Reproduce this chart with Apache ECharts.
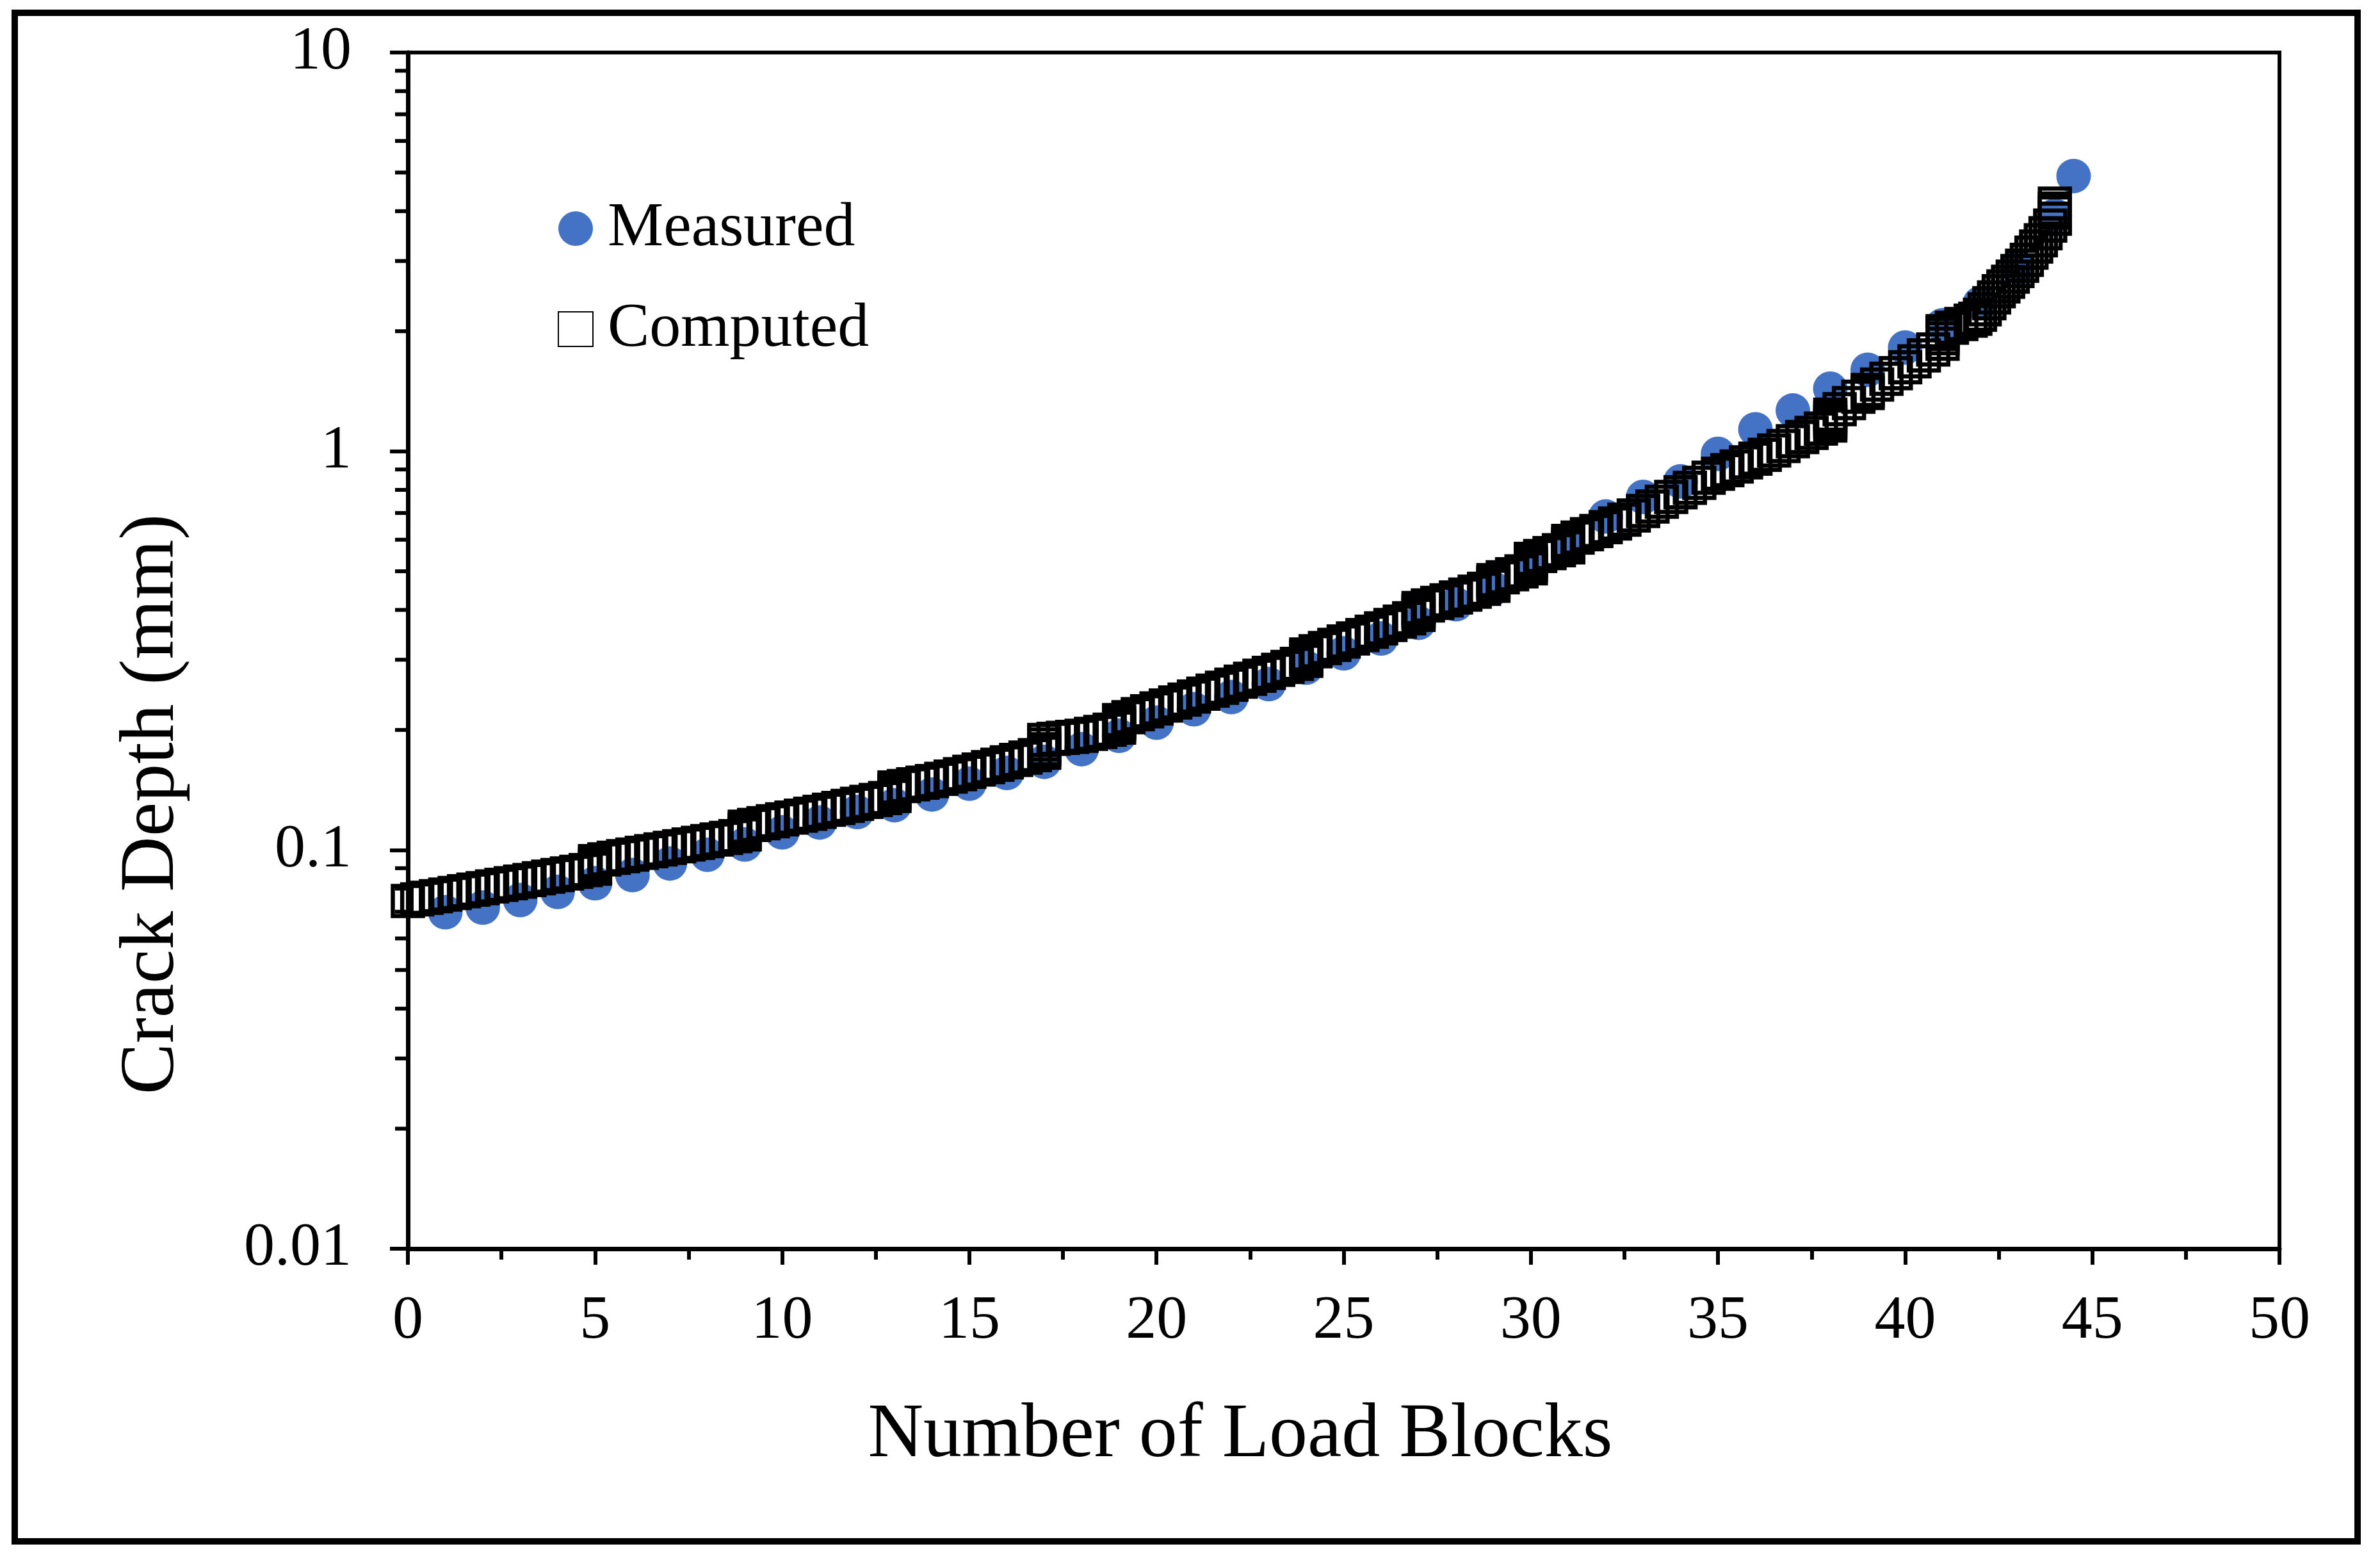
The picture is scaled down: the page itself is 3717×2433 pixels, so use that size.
<!DOCTYPE html>
<html>
<head>
<meta charset="utf-8">
<script src="https://cdn.jsdelivr.net/npm/echarts@6/dist/echarts.min.js"></script>
<style>
html,body{margin:0;padding:0;background:#fff;}
#chart{width:3717px;height:2433px;}
</style>
</head>
<body>
<div id="chart"></div>
<script>
// ---- data ----
const measBlocks = [1,2,3,4,5,6,7,8,9,10,11,12,13,14,15,16,17,18,19,20,21,22,23,24,25,26,27,28,29,30,31,32,33,34,35,36,37,38,39,40,41,42,43,44,44.5];
const measDepth = [0.0698,0.0717,0.0749,0.0785,0.0825,0.0865,0.0925,0.0973,0.1032,0.1107,0.1172,0.1245,0.1295,0.1378,0.1467,0.1560,0.1664,0.1790,0.1933,0.2086,0.2254,0.2418,0.2606,0.2867,0.3113,0.3392,0.3713,0.4133,0.4522,0.5180,0.5850,0.6860,0.7680,0.8400,0.9850,1.135,1.265,1.435,1.600,1.820,2.070,2.350,2.900,3.900,4.900];

const compBlocks = [
0,0.25,0.5,0.75,1,1.25,1.5,1.75,2,2.25,2.5,2.75,3,3.25,3.5,3.75,4,4.25,4.5,4.75,
5,5,5,5,5.25,5.5,5.75,6,6.25,6.5,6.75,7,7.25,7.5,7.75,8,8.25,8.5,8.75,
9,9,9,9,9.25,9.5,9.75,10,10.25,10.5,10.75,11,11.25,11.5,11.75,12,12.25,12.5,12.75,
13,13,13,13,13.25,13.5,13.75,14,14.25,14.5,14.75,15,15.25,15.5,15.75,16,16.25,16.5,16.75,
17,17,17,17,17.25,17.5,17.75,18,18.25,18.5,18.75,
19,19,19,19,19.25,19.5,19.75,20,20.25,20.5,20.75,21,21.25,21.5,21.75,22,22.25,22.5,22.75,23,23.25,23.5,23.75,
24,24,24,24,24.25,24.5,24.75,25,25.25,25.5,25.75,26,26.25,26.5,26.75,
27,27,27,27,27.25,27.5,27.75,28,28.25,28.5,28.75,
29,29,29,29,29.25,29.5,29.75,
30,30,30,30,30.25,30.5,30.75,
31,31,31,31,31.25,31.5,31.75,32,32.25,32.5,32.75,33,33.25,33.5,33.75,34,34.25,34.5,34.75,35,35.25,35.5,35.75,36,36.25,36.5,36.75,37,37.25,37.5,37.75,
38,38,38,38,38.25,38.5,38.75,39,39,39.25,39.5,39.75,40,40.25,40.5,40.75,
41,41,41,41,41.25,41.5,41.75,41.875,42,42.125,42.25,42.375,42.5,42.625,42.75,42.875,43,43.125,43.25,43.375,43.5,43.625,43.75,43.875,
44,44,44,44
];
const compDepth = [
0.0745,0.0752,0.0759,0.0766,0.0773,0.0780,0.0788,0.0795,0.0802,0.0810,0.0818,0.0825,0.0833,0.0841,0.0849,0.0857,0.0865,0.0873,0.0881,0.0890,
0.0898,0.0912,0.0926,0.0938,0.0947,0.0956,0.0965,0.0974,0.0984,0.0993,0.1003,0.1012,0.1022,0.1032,0.1042,0.1052,0.1062,0.1072,0.1083,
0.1094,0.1110,0.1127,0.1144,0.1155,0.1167,0.1180,0.1193,0.1206,0.1219,0.1233,0.1247,0.1261,0.1275,0.1290,0.1305,0.1320,0.1335,0.1350,
0.1366,0.1388,0.1410,0.1434,0.1447,0.1462,0.1475,0.1488,0.1508,0.1528,0.1549,0.1570,0.1591,0.1613,0.1636,0.1659,0.1682,0.1705,0.1729,
0.1753,0.1790,0.1840,0.1888,0.1900,0.1911,0.1922,0.1933,0.1955,0.1978,0.2002,
0.2027,0.2060,0.2090,0.2117,0.2153,0.2190,0.2228,0.2265,0.2303,0.2343,0.2384,0.2425,0.2467,0.2509,0.2553,0.2597,0.2642,0.2688,0.2735,0.2782,0.2830,0.2879,0.2930,
0.2981,0.3020,0.3055,0.3092,0.3150,0.3210,0.3270,0.3332,0.3394,0.3460,0.3528,0.3597,0.3667,0.3739,0.3812,
0.3887,0.3940,0.3990,0.4044,0.4105,0.4166,0.4229,0.4300,0.4372,0.4445,0.4520,
0.4597,0.4650,0.4700,0.4748,0.4830,0.4913,0.4998,
0.5085,0.5180,0.5275,0.5370,0.5460,0.5551,0.5645,
0.5740,0.5810,0.5885,0.5957,0.6073,0.6190,0.6310,0.6450,0.6590,0.6735,0.6900,0.7080,0.7270,0.7470,0.7680,0.7890,0.8100,0.8330,0.8580,0.8780,0.8960,0.9160,0.9380,0.9580,0.9800,1.0040,1.0310,1.0600,1.0850,1.1120,1.1400,
1.160,1.185,1.210,1.235,1.275,1.320,1.370,1.400,1.425,1.470,1.520,1.570,1.625,1.680,1.740,1.800,
1.860,1.920,1.970,2.000,2.040,2.085,2.125,2.150,2.200,2.270,2.350,2.430,2.520,2.590,2.660,2.740,2.830,2.920,3.020,3.150,3.260,3.380,3.520,3.680,
3.830,3.970,4.060,4.180
];

const yMinorTicks = [0.02,0.03,0.04,0.05,0.06,0.07,0.08,0.09,0.2,0.3,0.4,0.5,0.6,0.7,0.8,0.9,2,3,4,5,6,7,8,9];
const seriesNames = ['Measured','Computed'];
const xTitle = 'Number of Load Blocks';
const yTitle = 'Crack Depth (mm)';

// ---- chart ----
const FONT = '"Liberation Serif", "Times New Roman", serif';
const chart = echarts.init(document.getElementById('chart'), null, {renderer:'canvas'});

const measData = measBlocks.map((x,i)=>[x, measDepth[i]]);
const compData = compBlocks.map((x,i)=>[x, compDepth[i]]);
const minorData = yMinorTicks.map(v=>[0, v]);

chart.setOption({
  backgroundColor:'#ffffff',
  animation:false,
  grid:{left:637, right:157, top:82, bottom:483, show:true, borderColor:'#000', borderWidth:6, backgroundColor:'transparent'},
  xAxis:{
    type:'value', min:0, max:50, interval:5,
    axisLine:{show:true, onZero:false, lineStyle:{color:'#000', width:7}},
    axisTick:{show:true, inside:false, length:25, lineStyle:{color:'#000', width:6}},
    minorTick:{show:true, splitNumber:2, length:17, lineStyle:{color:'#000', width:6}},
    splitLine:{show:false},
    axisLabel:{color:'#000', fontSize:96, fontFamily:FONT, margin:66}
  },
  yAxis:{
    type:'log', logBase:10, min:0.01, max:10,
    axisLine:{show:true, lineStyle:{color:'#000', width:7}},
    axisTick:{show:true, inside:false, length:28, lineStyle:{color:'#000', width:6}},
    splitLine:{show:false},
    axisLabel:{color:'#000', fontSize:96, fontFamily:FONT, margin:88,
      formatter:function(v){ return v>=1 ? String(Math.round(v)) : String(parseFloat(v.toPrecision(2))); }}
  },
  legend:{
    orient:'vertical', left:871, top:308, padding:0,
    itemWidth:54, itemHeight:54, itemGap:59,
    data:seriesNames,
    textStyle:{color:'#000', fontSize:98, fontFamily:FONT, lineHeight:54, padding:[0,0,0,18]}
  },
  graphic:[
    {type:'rect', shape:{x:23, y:20, width:3659, height:2387}, style:{fill:'none', stroke:'#000', lineWidth:10}, z:0},
    {type:'text', x:1937, y:2242, style:{text:xTitle, font:'120px '+FONT, fill:'#000', align:'center', verticalAlign:'middle'}},
    {type:'text', x:238, y:1256, rotation:Math.PI/2, style:{text:yTitle, font:'120px '+FONT, fill:'#000', align:'center', verticalAlign:'middle'}}
  ],
  series:[
    {name:seriesNames[0], type:'scatter', symbol:'circle', symbolSize:54, clip:false,
     itemStyle:{color:'#4472C4', opacity:1}, data:measData, z:2},
    {name:seriesNames[1], type:'scatter', symbol:'rect', symbolSize:47, clip:false,
     itemStyle:{color:'rgba(0,0,0,0)', borderColor:'#000', borderWidth:6.5, opacity:1}, data:compData, z:3},
    {type:'custom', name:'yMinor', clip:false, silent:true, z:4,
     encode:{x:0, y:1}, data:minorData,
     renderItem:function(params, api){
       const p = api.coord([api.value(0), api.value(1)]);
       return {type:'line', shape:{x1:p[0]-20, y1:p[1], x2:p[0], y2:p[1]}, style:{stroke:'#000', lineWidth:6}};
     }}
  ]
});
</script>
</body>
</html>
